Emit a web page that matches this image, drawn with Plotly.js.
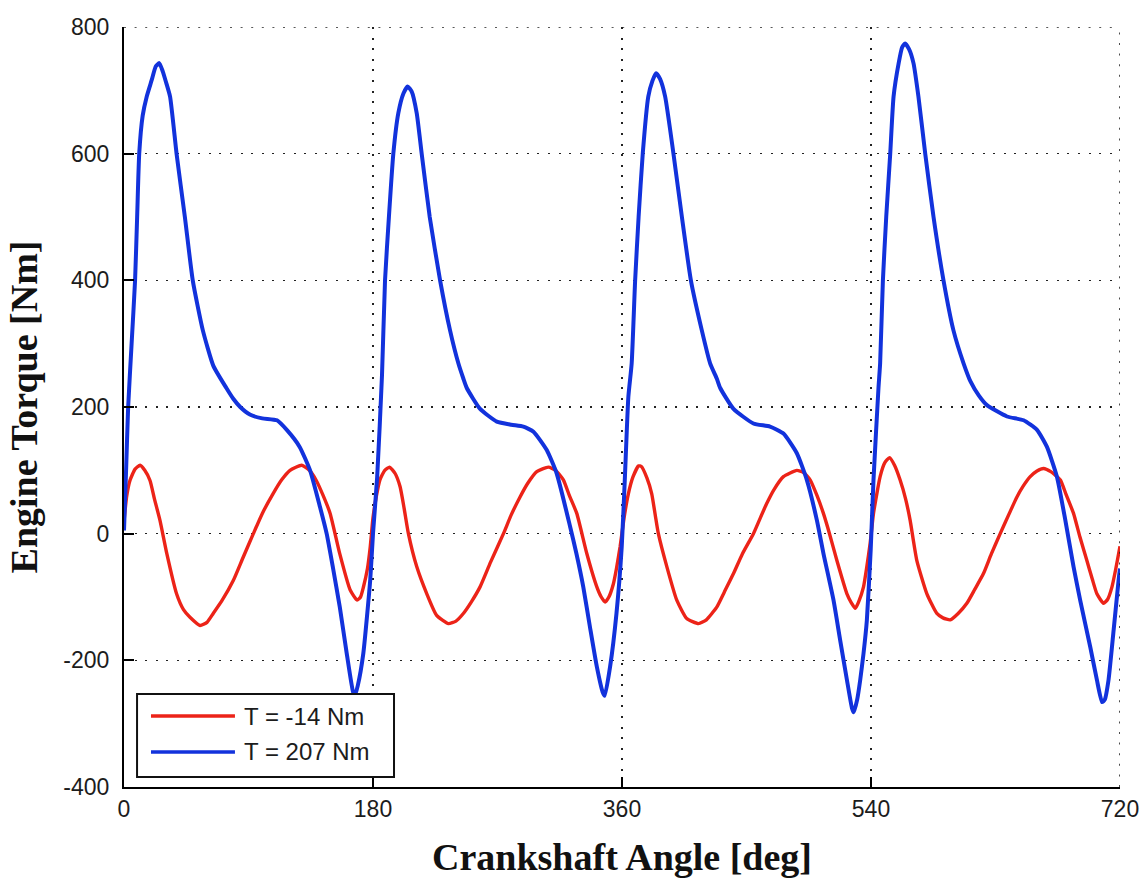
<!DOCTYPE html>
<html>
<head>
<meta charset="utf-8">
<script src="https://cdn.plot.ly/plotly-3.0.1.min.js"></script>
<style>
  html, body { margin: 0; padding: 0; background: #ffffff; }
  #chart { width: 1144px; height: 880px; }
</style>
</head>
<body>
<div id="chart"></div>
<script>
// Series labels (engine load cases)
const seriesNames = ['T = -14 Nm', 'T = 207 Nm'];
const seriesColors = ['#ec2318', '#1232dc'];

// Low-load case: crank angle [deg] and instantaneous torque [Nm]
const angleLow = [0, 2, 4.3, 8, 11.6, 15, 18.8, 22, 26, 31, 38, 43, 47.7, 55, 60, 64.5, 71, 79, 86, 93.5,
  100, 108, 114, 120, 128.5, 134, 139, 144, 149, 156, 163.5, 168.5, 171, 173, 176, 178, 180, 182.5, 185, 188.5,
  192, 196, 199.6, 202.5, 205.6, 211.6, 218.9, 226, 234.5, 240, 245.3, 251, 257.4, 265, 274.3, 280, 286.3, 292, 298.4, 306.8,
  312, 317.6, 322, 327.3, 334.5, 341.8, 345, 347.8, 350.5, 353.8, 356, 358.6, 361.5, 364.6, 368, 372, 374, 378, 381.5, 384,
  386.3, 392.4, 399.6, 406.8, 415.3, 421, 428.5, 434, 440.6, 447, 455, 460, 464.7, 470, 476.7, 486.4, 491, 496, 501, 505.6,
  510, 515.3, 522.6, 526, 528.6, 531, 534.6, 537, 539.4, 541.8, 546.6, 550, 553.4, 557, 561, 565, 568.3, 573.1, 580.4, 587.6,
  592, 597.3, 603, 609.3, 615, 621.3, 627, 633.4, 640, 645.5, 650, 655.1, 660, 664.7, 670, 676.8, 681, 686.4, 691, 696,
  700, 703.3, 708.1, 711, 714.2, 717, 720];
const torqueLow = [20, 60, 84, 102, 108, 100, 84, 55, 21, -32, -95, -120, -132, -145, -140, -126, -105, -74, -38, 0,
  32, 64, 85, 100, 108, 100, 84, 60, 32, -32, -89, -105, -100, -85, -55, -21, 25, 60, 85, 100,
  105, 95, 74, 40, 0, -52, -95, -129, -142, -138, -126, -108, -84, -45, 0, 30, 58, 80, 98, 105,
  100, 85, 60, 32, -31, -84, -100, -108, -100, -79, -55, -21, 25, 63, 90, 107, 106, 88, 63, 30,
  0, -52, -105, -134, -142, -136, -116, -92, -63, -32, 0, 25, 48, 70, 90, 100, 97, 85, 60, 32,
  0, -42, -95, -110, -118, -108, -84, -52, -15, 32, 90, 112, 120, 108, 85, 55, 21, -42, -95, -126,
  -133, -136, -126, -110, -88, -63, -32, 0, 32, 58, 75, 90, 99, 103, 98, 85, 62, 32, -5, -42,
  -72, -95, -110, -104, -84, -55, -20];

// High-load case: crank angle [deg] and instantaneous torque [Nm]
const angleHigh = [0, 1.5, 3, 5.5, 8, 9.5, 11, 13.5, 16.4, 20, 23, 25.5, 28, 30.5, 33.3, 38, 44, 49.7, 57, 64.6,
  74, 79, 84, 91, 100, 110.6, 118, 127, 134.5, 141.7, 146.5, 151, 156, 161, 165.6, 167, 169, 173, 178,
  180, 183, 186.5, 188.7, 191.5, 194.7, 198.3, 202, 205, 208, 211.6, 215.2, 221, 228.5, 235.7, 241.7, 245.3, 247.8, 257.4, 269.5,
  280, 288.7, 296, 305.6, 312.8, 322.5, 327, 332, 336.8, 341.8, 346, 347.5, 351.4, 356, 359.8, 362, 364.6, 367, 369.5, 372,
  375, 379, 382, 384.7, 387.5, 391.2, 397.2, 403.3, 409.8, 417.7, 423.7, 428.5, 431, 440.6, 455, 467, 476.7, 486.4, 493.6, 500.9,
  505.6, 512.9, 517.7, 522.6, 526.2, 527.5, 530, 532.2, 534.6, 537, 539.8, 541.8, 545.4, 546.6, 548.6, 551, 553.9, 556.3, 560, 562.5,
  564.7, 567.5, 570.7, 574.3, 579.2, 585.2, 592.4, 599.6, 606.9, 612, 618, 623.8, 638.3, 650.3, 660, 667.2, 674.4, 680.5, 686.4, 691.2,
  698.5, 703.3, 707, 709, 711.7, 715.4, 719, 720];
const torqueHigh = [5, 100, 200, 300, 400, 500, 600, 660, 690, 716, 738, 743, 730, 712, 690, 600, 500, 400, 321, 265,
  230, 213, 200, 188, 182, 179, 163, 137, 100, 42, 0, -53, -116, -189, -250, -255, -240, -189, -73,
  0, 89, 250, 400, 500, 600, 664, 695, 706, 698, 664, 600, 500, 400, 321, 269, 245, 230, 197, 177,
  172, 169, 161, 132, 95, 11, -31, -84, -147, -210, -250, -256, -210, -126, -21, 84, 216, 269, 400, 500,
  600, 690, 715, 727, 718, 690, 600, 500, 400, 321, 269, 245, 230, 197, 174, 169, 158, 127, 85, 21,
  -31, -105, -168, -231, -275, -282, -262, -231, -189, -137, -25, 85, 230, 269, 400, 500, 600, 690, 743, 768,
  774, 765, 743, 690, 600, 500, 400, 321, 269, 240, 218, 203, 185, 179, 164, 137, 90, 21, -52, -105,
  -179, -231, -266, -262, -231, -152, -73, -55];

// Axis ticks
const xTickVals = [0, 180, 360, 540, 720];
const xTickText = ['0', '180', '360', '540', '720'];
const yTickVals = [-400, -200, 0, 200, 400, 600, 800];
const yTickText = ['-400', '-200', '0', '200', '400', '600', '800'];

const xRange = [0, 720];
const yRange = [-400, 800];

const gridDash = '2px,8.6px';
const gridColor = '#222222';
const tickFont = { family: 'Liberation Sans, Arial, sans-serif', size: 23, color: '#1c1c1c' };
const titleFont = { family: 'Liberation Serif, Times New Roman, serif', size: 38, color: '#111111', weight: 'bold' };

const traces = [
  { x: angleLow, y: torqueLow, name: seriesNames[0], type: 'scatter', mode: 'lines',
    line: { color: seriesColors[0], width: 3.4, shape: 'spline', smoothing: 0.5 }, showlegend: false, hoverinfo: 'skip' },
  { x: angleHigh, y: torqueHigh, name: seriesNames[1], type: 'scatter', mode: 'lines',
    line: { color: seriesColors[1], width: 4, shape: 'spline', smoothing: 0.5 }, showlegend: false, hoverinfo: 'skip' }
];

const axisCommon = {
  showline: true, linecolor: '#000000', linewidth: 2,
  ticks: 'inside', ticklen: 10, tickwidth: 2, tickcolor: '#000000',
  showgrid: true, gridcolor: gridColor, gridwidth: 1.6, griddash: gridDash,
  zeroline: false, mirror: false, tickmode: 'array', tickfont: tickFont, fixedrange: true
};

// Legend box drawn in paper coordinates (plot area is the unit square)
const legendBox = { x0: 0.0131, x1: 0.2711, y0: 0.0132, y1: 0.1224 };
const legendRows = [0.0934, 0.0461];
const legendLineX = [0.0271, 0.1114];
const legendTextX = 0.1185;

const shapes = [
  // dotted frame on the top and right edges, continuing the grid
  { type: 'line', xref: 'x', yref: 'y', x0: xRange[0], x1: xRange[1], y0: yRange[1], y1: yRange[1],
    line: { color: gridColor, width: 1.6, dash: gridDash } },
  { type: 'line', xref: 'x', yref: 'y', x0: xRange[1], x1: xRange[1], y0: yRange[0], y1: yRange[1],
    line: { color: gridColor, width: 1.6, dash: gridDash } },
  { type: 'rect', xref: 'paper', yref: 'paper', layer: 'above',
    x0: legendBox.x0, x1: legendBox.x1, y0: legendBox.y0, y1: legendBox.y1,
    fillcolor: '#ffffff', line: { color: '#111111', width: 2 } }
];
const annotations = [];
seriesNames.forEach(function (name, i) {
  shapes.push({ type: 'line', xref: 'paper', yref: 'paper', layer: 'above',
    x0: legendLineX[0], x1: legendLineX[1], y0: legendRows[i], y1: legendRows[i],
    line: { color: seriesColors[i], width: 3.4 } });
  annotations.push({ xref: 'paper', yref: 'paper', x: legendTextX, y: legendRows[i],
    xanchor: 'left', yanchor: 'middle', showarrow: false, text: name,
    font: { family: 'Liberation Sans, Arial, sans-serif', size: 24, color: '#1c1c1c' } });
});

const layout = {
  width: 1144, height: 880,
  margin: { l: 124, r: 24, t: 27, b: 93, pad: 0 },
  paper_bgcolor: '#ffffff', plot_bgcolor: '#ffffff',
  showlegend: false,
  xaxis: Object.assign({}, axisCommon, {
    range: xRange, tickvals: xTickVals, ticktext: xTickText, ticklabelstandoff: 0,
    title: { text: 'Crankshaft Angle [deg]', font: titleFont, standoff: 23 }
  }),
  yaxis: Object.assign({}, axisCommon, {
    range: yRange, tickvals: yTickVals, ticktext: yTickText, ticklabelstandoff: 8,
    title: { text: 'Engine Torque [Nm]', font: titleFont, standoff: 14 }
  }),
  shapes: shapes,
  annotations: annotations
};

Plotly.newPlot('chart', traces, layout, { displayModeBar: false, staticPlot: true });
</script>
</body>
</html>
